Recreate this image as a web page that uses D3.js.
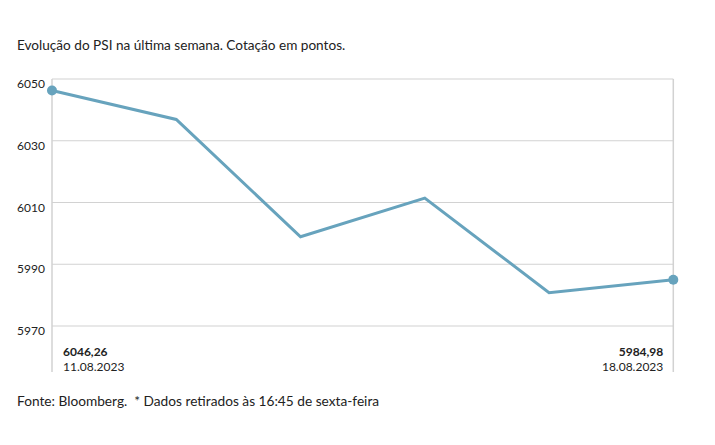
<!DOCTYPE html>
<html><head><meta charset="utf-8">
<script src="https://cdn.jsdelivr.net/npm/d3@7"></script>
<style>
body{margin:0;background:#fff;}
text{font-family:Lato,"Noto Sans",sans-serif;fill:#222;}
</style></head>
<body><svg id="c" width="715" height="445"></svg>
<script>
const dates = ["11.08.2023","14.08.2023","15.08.2023","16.08.2023","17.08.2023","18.08.2023"];
const values = [6046.26, 6036.9, 5998.9, 6011.4, 5980.8, 5984.98];
const yTicks = [5970, 5990, 6010, 6030, 6050];
const title = "Evolução do PSI na última semana. Cotação em pontos.";
const footer = "Fonte: Bloomberg.  * Dados retirados às 16:45 de sexta-feira";
const firstLabel = "6046,26", lastLabel = "5984,98";

(function(){
const svg = d3.select("#c");
const mLeft = 52, mRight = 673.3, mTop = 79, mBottom = 326, frameBottom = 372;
const x = d3.scalePoint().domain(dates).range([mLeft, mRight]);
const y = d3.scaleLinear().domain([5970, 6050]).range([mBottom, mTop]);
const grey = "#d2d2d2", blue = "#67a3bd";

svg.append("text").attr("x", 17).attr("y", 50).style("font-size","13.6px").text(title);

svg.selectAll("line.g").data(yTicks).join("line")
  .attr("x1", mLeft).attr("x2", mRight).attr("y1", d=>y(d)).attr("y2", d=>y(d))
  .attr("stroke", grey).attr("stroke-width", 1.2);
[mLeft, mRight].forEach(xx => svg.append("line").attr("x1", xx).attr("x2", xx)
  .attr("y1", mTop).attr("y2", frameBottom).attr("stroke", grey).attr("stroke-width", 1.5));

svg.selectAll("text.yt").data(yTicks).join("text")
  .attr("x", 17).attr("y", d=>y(d)+9).style("font-size","12px").text(d=>d);

const line = d3.line().x((d,i)=>x(dates[i])).y(d=>y(d));
svg.append("path").datum(values).attr("d", line).attr("fill","none")
  .attr("stroke", blue).attr("stroke-width", 3).attr("stroke-linejoin","miter");
[0, values.length-1].forEach(i => svg.append("circle").attr("cx", x(dates[i])).attr("cy", y(values[i]))
  .attr("r", 5).attr("fill", blue));

svg.append("text").attr("x", mLeft+11).attr("y", 356).style("font-size","12px").style("font-weight","bold").text(firstLabel);
svg.append("text").attr("x", mLeft+11).attr("y", 370.8).style("font-size","12px").text(dates[0]);
svg.append("text").attr("x", mRight-10).attr("y", 356).attr("text-anchor","end").style("font-size","12px").style("font-weight","bold").text(lastLabel);
svg.append("text").attr("x", mRight-10).attr("y", 370.8).attr("text-anchor","end").style("font-size","12px").text(dates[dates.length-1]);

svg.append("text").attr("x", 17).attr("y", 406).style("font-size","13.7px").style("white-space","pre").text(footer);
})();
</script></body></html>
